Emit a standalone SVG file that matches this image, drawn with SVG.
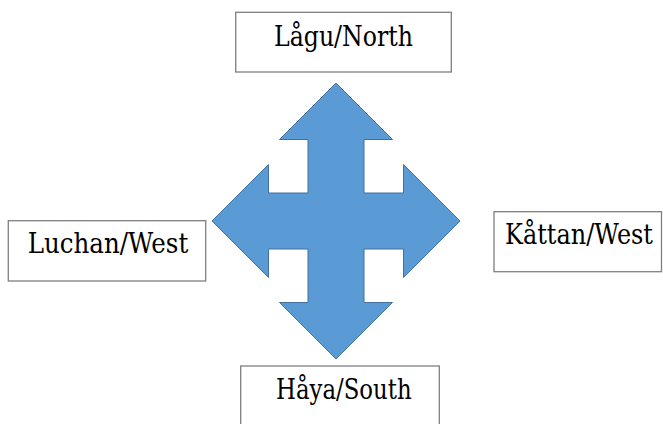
<svg xmlns="http://www.w3.org/2000/svg" width="663" height="424" viewBox="0 0 663 424">
<style>
.box{fill:#ffffff;stroke:#7f7f7f;stroke-width:1.3}
.lbl{font-family:'DejaVu Serif','Liberation Serif',serif;font-size:28.5px;fill:#000000}
.cross{fill:#5b9bd5;stroke:#41719c;stroke-width:1}
</style>
<rect width="663" height="424" fill="#ffffff"/>
<g id="connectors">
<polygon class="cross" points="336,83 392.5,139.5 364,139.5 364,193 403.5,193 403.5,164.5 460,221 403.5,277.5 403.5,249 364,249 364,302.5 392.5,302.5 336,359 279.5,302.5 308,302.5 308,249 268.5,249 268.5,277.5 212,221 268.5,164.5 268.5,193 308,193 308,139.5 279.5,139.5"/>
</g>
<g id="north">
<rect class="box" x="235.7" y="12.3" width="215.6" height="59.7"/>
<text class="lbl" x="274" y="45.7" textLength="139" lengthAdjust="spacingAndGlyphs">Lågu/North</text>
</g>
<g id="west">
<rect class="box" x="8.3" y="220.7" width="197.4" height="60.3"/>
<text class="lbl" x="27.7" y="253.3" textLength="160.6" lengthAdjust="spacingAndGlyphs">Luchan/West</text>
</g>
<g id="east">
<rect class="box" x="494" y="211.7" width="167.5" height="60"/>
<text class="lbl" style="font-size:24px" transform="translate(505,244.3) scale(1,1.19)" x="0" y="0" textLength="148" lengthAdjust="spacingAndGlyphs">Kåttan/West</text>
</g>
<g id="south">
<rect class="box" x="240.7" y="366" width="198.6" height="70"/>
<text class="lbl" x="276" y="398.7" textLength="135.7" lengthAdjust="spacingAndGlyphs">Håya/South</text>
</g>
</svg>
